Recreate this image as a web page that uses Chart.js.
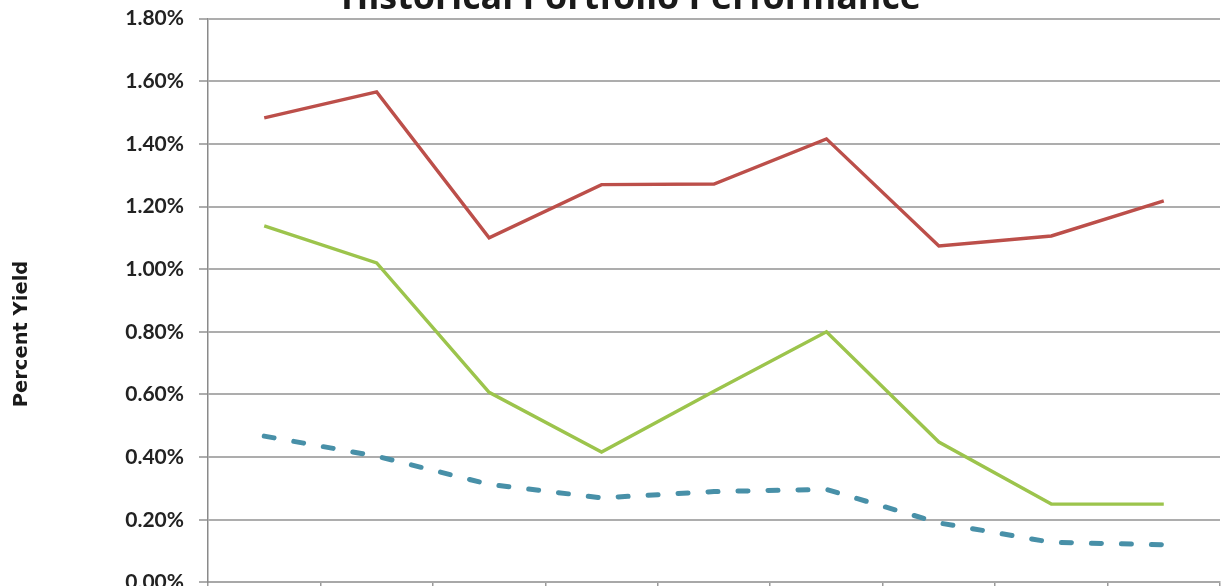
<!DOCTYPE html>
<html><head><meta charset="utf-8">
<script src="https://cdn.jsdelivr.net/npm/chart.js@4/dist/chart.umd.min.js"></script>
<style>html,body{margin:0;padding:0;background:#fff;overflow:hidden}#wrap{width:1221px;height:586px;position:relative;overflow:hidden}canvas{display:block;position:absolute;left:0;top:-9px}</style>
</head><body><div id="wrap"><canvas id="c" width="1221" height="619"></canvas></div>
<script>
const chartTitle = 'Historical Portfolio Performance';
const yAxisTitle = 'Percent Yield';
const periods = ['Period 1','Period 2','Period 3','Period 4','Period 5','Period 6','Period 7','Period 8','Period 9'];
const seriesRed = [1.483, 1.566, 1.100, 1.270, 1.272, 1.416, 1.074, 1.106, 1.218];
const seriesGreen = [1.138, 1.020, 0.607, 0.416, 0.610, 0.800, 0.448, 0.250, 0.250];
const seriesBlue = [0.467, 0.403, 0.313, 0.270, 0.290, 0.297, 0.190, 0.128, 0.120];
const yTicks = [0, 0.2, 0.4, 0.6, 0.8, 1.0, 1.2, 1.4, 1.6, 1.8];
const SHIFT = 9;

const titlesPlugin = {
  id: 'titles',
  afterDraw(chart) {
    const ctx = chart.ctx;
    ctx.save();
    ctx.fillStyle = '#1a1a1a';
    ctx.font = 'bold 30px "Open Sans"';
    const w = ctx.measureText(chartTitle).width;
    const size = 30 * 580 / w;
    ctx.font = 'bold ' + size.toFixed(2) + 'px "Open Sans"';
    ctx.textAlign = 'center';
    ctx.textBaseline = 'alphabetic';
    ctx.fillText(chartTitle, 631, 9 + SHIFT);
    ctx.translate(22, 334 + SHIFT);
    ctx.rotate(-Math.PI / 2);
    ctx.font = 'bold 19.5px "DejaVu Sans"';
    ctx.textBaseline = 'middle';
    ctx.fillText(yAxisTitle, 0, 0);
    ctx.restore();
  }
};

new Chart(document.getElementById('c'), {
  type: 'line',
  data: {
    labels: periods,
    datasets: [
      {label: 'Series 1', data: seriesRed, borderColor: '#bc4f4a', borderWidth: 3.4, pointRadius: 0, tension: 0},
      {label: 'Series 2', data: seriesGreen, borderColor: '#9cc44c', borderWidth: 3.4, pointRadius: 0, tension: 0},
      {label: 'Series 3', data: seriesBlue, borderColor: '#4890a8', borderWidth: 5, borderDash: [10, 20], borderCapStyle: 'round', pointRadius: 0, tension: 0}
    ]
  },
  options: {
    responsive: false,
    animation: false,
    devicePixelRatio: 1,
    layout: {padding: {top: 18, right: 1, bottom: 0, left: 0}},
    plugins: {legend: {display: false}, title: {display: false}, tooltip: {enabled: false}},
    scales: {
      x: {
        offset: true,
        grid: {display: true, drawOnChartArea: false, drawTicks: true, tickLength: 9, color: '#9a9a9a', lineWidth: 1.5, offset: true},
        border: {display: true, color: '#a8a8a8', width: 2},
        ticks: {display: false},
        afterFit(scale) { scale.height = 5; }
      },
      y: {
        min: 0, max: 1.8,
        afterBuildTicks(scale) { scale.ticks = yTicks.map(v => ({value: v})); },
        grid: {color: '#adadad', lineWidth: 2, tickLength: 9, drawTicks: true},
        border: {display: true, color: '#8a8a8a', width: 1.5},
        ticks: {
          color: '#222222', padding: 15,
          font: {family: 'Lato', weight: 'bold', size: 21},
          callback: v => v.toFixed(2) + '%'
        },
        afterFit(scale) { scale.width = 208; }
      }
    }
  },
  plugins: [titlesPlugin]
});
</script>
</body></html>
